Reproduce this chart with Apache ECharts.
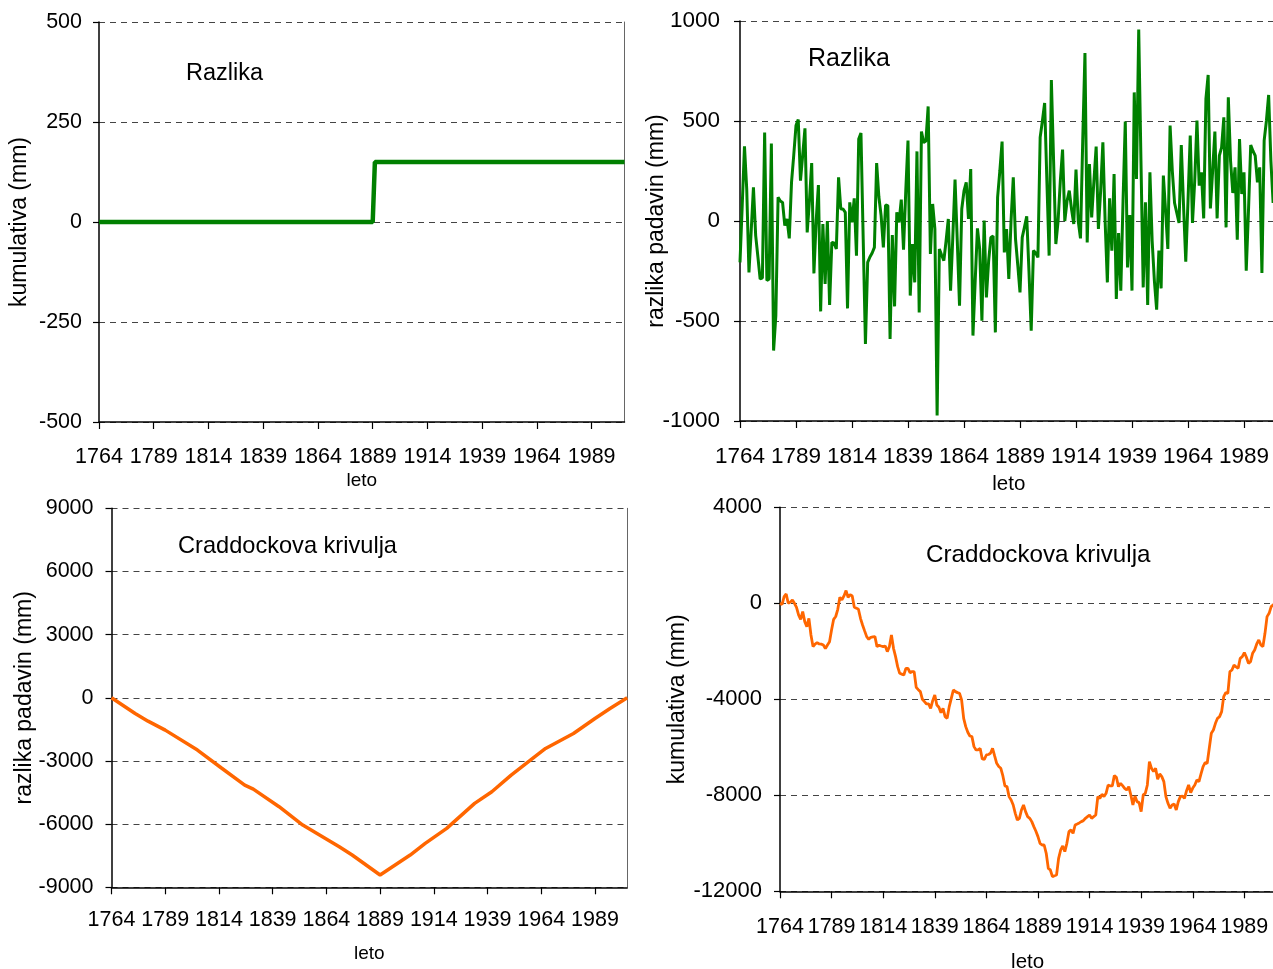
<!DOCTYPE html>
<html>
<head>
<meta charset="utf-8">
<script src="https://cdn.jsdelivr.net/npm/echarts@6/dist/echarts.min.js"></script>
<style>
html,body{margin:0;padding:0;background:#fff;}
#c{width:1273px;height:969px;}
</style>
</head>
<body>
<div id="c"></div>
<script>
// ---------- data ----------
var firstYear = 1764, lastYear = 2004;
var tickYears = ['1764','1789','1814','1839','1864','1889','1914','1939','1964','1989'];

// top-left: cumulative step ("Razlika")
var stepYears  = [1764, 1889, 1890, 2004];
var stepValues = [0, 0, 150, 150];

// top-right: yearly difference ("Razlika"), 1764..2004
var razlikaValues = [
 -207, 80, 373, 160, -257, -50, 168, -73, -180, -290,
 -285, 443, -298, -290, 388, -648, -473, 118, 100, 93,
 -23, 10, -87, 193, 330, 477, 507, 202, 330, 463,
 -57, 100, 290, -262, 0, 180, -452, -15, -315, 0,
 -420, -107, -110, -140, 218, 60, 60, 43, -437, 93,
 -7, 113, -173, 410, 440, -90, -615, -207, -180, -160,
 -132, 290, 120, 27, -132, 80, 77, -590, -70, -427,
 43, -7, 107, -143, 150, 402, -373, -115, -307, 348,
 -457, 447, 393, 400, 573, -165, 85, -40, -973, -140,
 -170, -198, -100, 10, -348, -82, 207, -100, -423, 60,
 150, 193, 10, 260, -573, -300, -37, -140, -498, 2,
 -382, -200, -82, -75, -557, 118, 250, 397, -157, -40,
 -290, 0, 218, -90, -220, -357, -82, -30, 23, -250,
 -548, -148, -160, -182, 418, 500, 590, 200, -173, 705,
 300, -115, 0, 200, 357, 0, 100, 152, 60, -15,
 257, 0, -87, 400, 840, -107, 285, 18, 200, 372,
 -40, 150, 393, 0, -307, 113, -148, 235, -390, -60,
 -348, 100, 497, -232, 30, -348, 643, 210, 957, 300,
 -332, 93, -420, 243, -100, -300, -443, -148, -337, 227,
 50, -140, 477, 250, 90, 40, -10, 380, 80, -203,
 100, 427, -10, 200, 502, 177, 243, 13, 610, 730,
 63, 250, 447, 13, 327, 368, 518, -32, 618, 300,
 140, 268, -93, 410, 135, 243, -248, 50, 380, 350,
 327, 193, 268, -260, 402, 500, 630, 302, 90, 200,
 150
];

// bottom-left: Craddock curve of the step series
var vYears  = [1764, 1775, 1781, 1789, 1804, 1815, 1826, 1830, 1842, 1853, 1870, 1876, 1889,
               1903, 1910, 1920, 1933, 1941, 1950, 1960, 1966, 1979, 1989, 1996, 2004];
var vValues = [0, -744, -1108, -1535, -2484, -3323, -4146, -4335, -5174, -6044, -7073, -7468, -8418,
               -7468, -6915, -6203, -5016, -4462, -3671, -2880, -2405, -1693, -981, -506, 0];

// bottom-right: Craddock curve of the yearly differences, 1764..2004
var craddockValues = [
 0, -50, 278, 389, 0, 50, 139, 0, -167, -486,
 -667, -347, -764, -972, -625, -1320, -1805, -1700, -1639, -1694,
 -1700, -1736, -1889, -1736, -1600, -1100, -667, -550, -250, 250,
 139, 306, 528, 250, 361, 306, -167, -200, -250, -625,
 -903, -1150, -1389, -1500, -1417, -1400, -1389, -1805, -1750, -1780,
 -1805, -1778, -2014, -1805, -1320, -1875, -2222, -2639, -2917, -2950,
 -2986, -2708, -2708, -2889, -2847, -2847, -3500, -3600, -3680, -4000,
 -4097, -4194, -4194, -4375, -4055, -3820, -4236, -4333, -4555, -4375,
 -4722, -4792, -4305, -3958, -3611, -3680, -3722, -3750, -4028, -4792,
 -5139, -5375, -5528, -5555, -5972, -6111, -6111, -6050, -6486, -6500,
 -6320, -6300, -6250, -6042, -6361, -6667, -6800, -6875, -7194, -7611,
 -7639, -8055, -8194, -8403, -8750, -9028, -8958, -8611, -8403, -8680,
 -8889, -8958, -9097, -9305, -9500, -9722, -10000, -10070, -10070, -10417,
 -11042, -11111, -11389, -11350, -11320, -10625, -10278, -10111, -10347, -10000,
 -9514, -9444, -9583, -9236, -9194, -9150, -9097, -9055, -8958, -8889,
 -8820, -8958, -8889, -8820, -8055, -8125, -7958, -8055, -7917, -7570,
 -7611, -7611, -7180, -7250, -7639, -7500, -7600, -7708, -7778, -7639,
 -7986, -8403, -8028, -8264, -8305, -8680, -7986, -7917, -7570, -6597,
 -6875, -7014, -6875, -7333, -7111, -7222, -7430, -8055, -8333, -8542,
 -8403, -8361, -8611, -8264, -8055, -8028, -8125, -7805, -7570, -7889,
 -7700, -7570, -7361, -7430, -7111, -6805, -6639, -6667, -6042, -5417,
 -5278, -5000, -4792, -4722, -4514, -3889, -3722, -3750, -2847, -2778,
 -2570, -2650, -2708, -2292, -2222, -2055, -2250, -2500, -2430, -2083,
 -1944, -1694, -1528, -1736, -1805, -1250, -555, -417, -139, -69,
 0
];

// ---------- build ----------
var years = [];
for (var y = firstYear; y <= lastYear; y++) years.push(String(y));
function pairs(xs, vs){ return xs.map(function(x,i){ return [String(x), vs[i]]; }); }

var FONT = '"Liberation Sans", Arial, sans-serif';
var grids = [
  {left: 99,  top: 22,  width: 525.5, height: 400, outerBoundsMode: 'none', containLabel: false},
  {left: 740, top: 21,  width: 537.6, height: 400, outerBoundsMode: 'none', containLabel: false},
  {left: 111.5, top: 508.3, width: 515.7, height: 379, outerBoundsMode: 'none', containLabel: false},
  {left: 780, top: 507.3, width: 495.3, height: 384, outerBoundsMode: 'none', containLabel: false}
];
var yCfg = [
  {min: -500, max: 500, interval: 250, name: 'kumulativa (mm)', gap: 67.5, lm: 17, fs: 21.5},
  {min: -1000, max: 1000, interval: 500, name: 'razlika padavin (mm)', gap: 71.5, lm: 20, fs: 22.5},
  {min: -9000, max: 9000, interval: 3000, name: 'razlika padavin (mm)', gap: 75, lm: 18, fs: 21.5},
  {min: -12000, max: 4000, interval: 4000, name: 'kumulativa (mm)', gap: 90.5, lm: 18, fs: 22}
];
var xCfg = [
  {nameGap: 49.5, lm: 24, fs: 21.5, nfs: 19},
  {nameGap: 52.5, lm: 24, fs: 22.5, nfs: 20.5},
  {nameGap: 57, lm: 22, fs: 21.5, nfs: 19},
  {nameGap: 60.5, lm: 25, fs: 21.5, nfs: 20.5}
];

var xAxes = [], yAxes = [];
for (var i = 0; i < 4; i++) {
  xAxes.push({
    type: 'category', gridIndex: i, data: years, boundaryGap: false,
    name: 'leto', nameLocation: 'middle', nameGap: xCfg[i].nameGap, nameMoveOverlap: false,
    nameTextStyle: {fontFamily: FONT, fontSize: xCfg[i].nfs, color: '#000'},
    axisLine: {onZero: false, lineStyle: {color: '#000', width: 1.5}},
    axisTick: {show: true, interval: 24, length: 7, inside: false, lineStyle: {color: '#000', width: 1.2}},
    axisLabel: {interval: 24, margin: xCfg[i].lm, fontFamily: FONT, fontSize: xCfg[i].fs, color: '#000'},
    splitLine: {show: false}
  });
  yAxes.push({
    type: 'value', gridIndex: i, min: yCfg[i].min, max: yCfg[i].max, interval: yCfg[i].interval,
    name: yCfg[i].name, nameLocation: 'middle', nameGap: yCfg[i].gap, nameRotate: 90, nameMoveOverlap: false,
    nameTextStyle: {fontFamily: FONT, fontSize: 23, color: '#000'},
    axisLine: {show: true, lineStyle: {color: '#000', width: 1.5}},
    axisTick: {show: true, length: 6, inside: false, lineStyle: {color: '#000', width: 1.2}},
    axisLabel: {margin: yCfg[i].lm, fontFamily: FONT, fontSize: yCfg[i].fs, color: '#000',
                formatter: function (v) { return String(v); }},
    splitLine: {show: true, lineStyle: {color: '#444', width: 1, type: [6, 5]}}
  });
  // right border of the plot area
  yAxes.push({
    type: 'value', gridIndex: i, position: 'right', min: yCfg[i].min, max: yCfg[i].max, interval: yCfg[i].interval,
    axisLine: {show: true, lineStyle: {color: '#666', width: 1}},
    axisTick: {show: false}, axisLabel: {show: false}, splitLine: {show: false}
  });
}

var option = {
  animation: false,
  backgroundColor: '#fff',
  grid: grids,
  xAxis: xAxes,
  yAxis: yAxes,
  series: [
    {type: 'line', xAxisIndex: 0, yAxisIndex: 0, data: pairs(stepYears, stepValues),
     showSymbol: false, lineStyle: {color: '#008000', width: 4.5}, itemStyle: {color: '#008000'}},
    {type: 'line', xAxisIndex: 1, yAxisIndex: 2, data: razlikaValues,
     showSymbol: false, lineStyle: {color: '#008000', width: 3}, itemStyle: {color: '#008000'}},
    {type: 'line', xAxisIndex: 2, yAxisIndex: 4, data: pairs(vYears, vValues),
     showSymbol: false, lineStyle: {color: '#FF6600', width: 3.5}, itemStyle: {color: '#FF6600'}},
    {type: 'line', xAxisIndex: 3, yAxisIndex: 6, data: craddockValues,
     showSymbol: false, lineStyle: {color: '#FF6600', width: 2.8}, itemStyle: {color: '#FF6600'}}
  ],
  graphic: [
    {type: 'text', left: 186, top: 62, style: {text: 'Razlika', fontFamily: FONT, fontSize: 23.5, fill: '#000'}},
    {type: 'text', left: 808, top: 47, style: {text: 'Razlika', fontFamily: FONT, fontSize: 25, fill: '#000'}},
    {type: 'text', left: 178, top: 534, style: {text: 'Craddockova krivulja', fontFamily: FONT, fontSize: 23.6, fill: '#000'}},
    {type: 'text', left: 926, top: 543, style: {text: 'Craddockova krivulja', fontFamily: FONT, fontSize: 24.2, fill: '#000'}}
  ]
};

var chart = echarts.init(document.getElementById('c'), null, {renderer: 'canvas'});
chart.setOption(option);
</script>
</body>
</html>
